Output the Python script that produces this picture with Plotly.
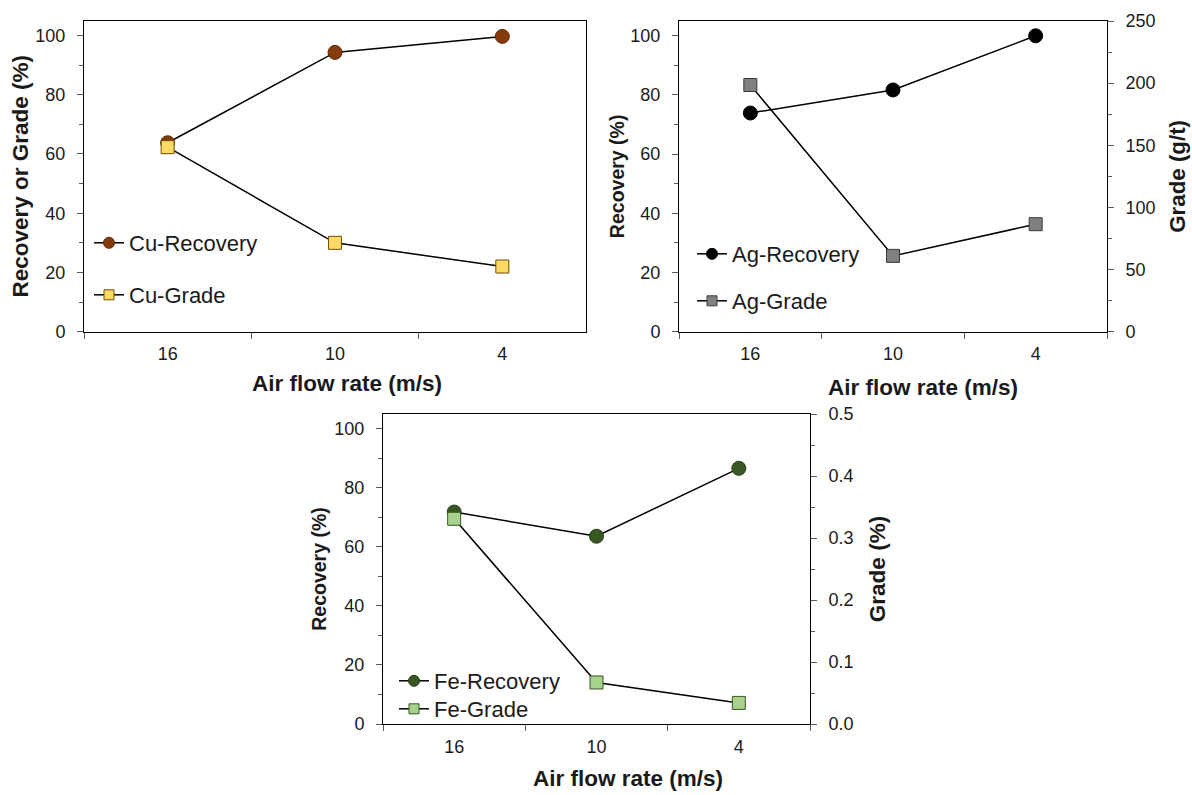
import plotly.graph_objects as go

W, H = 1192, 795

# ---------------- data ----------------
air_flow = ["16", "10", "4"]

cu_recovery = [63.8, 94.3, 99.7]
cu_grade = [62.3, 30.0, 22.0]

ag_recovery = [73.9, 81.7, 100.0]
ag_grade = [198.5, 61.0, 86.5]          # g/t

fe_recovery = [71.8, 63.6, 86.6]
fe_grade = [0.331, 0.067, 0.034]        # %

FONT = "Arial, Liberation Sans, sans-serif"
TXT = "#1a1a1a"
TICKC = "#595959"


def px(x):
    return x / W


def py(y):
    return 1 - y / H


fig = go.Figure()

line_style = dict(color="#000000", width=1.5)

styles = {
    "Cu-Recovery": dict(symbol="circle", color="#843C0C", lc="#5A2808"),
    "Cu-Grade": dict(symbol="square", color="#FFD966", lc="#6B5000"),
    "Ag-Recovery": dict(symbol="circle", color="#000000", lc="#000000"),
    "Ag-Grade": dict(symbol="square", color="#808080", lc="#3A3A3A"),
    "Fe-Recovery": dict(symbol="circle", color="#385723", lc="#26401A"),
    "Fe-Grade": dict(symbol="square", color="#A9D18E", lc="#385723"),
}

series = [
    ("Cu-Recovery", cu_recovery, "x", "y", "legend"),
    ("Cu-Grade", cu_grade, "x", "y", "legend2"),
    ("Ag-Recovery", ag_recovery, "x2", "y2", "legend3"),
    ("Ag-Grade", ag_grade, "x2", "y3", "legend4"),
    ("Fe-Recovery", fe_recovery, "x3", "y4", "legend5"),
    ("Fe-Grade", fe_grade, "x3", "y5", "legend6"),
]

for name, vals, xa, ya, lg in series:
    st = styles[name]
    size = 14 if st["symbol"] == "circle" else 13
    fig.add_trace(go.Scatter(x=air_flow, y=vals, name=name, mode="lines+markers",
                             line=line_style, xaxis=xa, yaxis=ya, showlegend=False,
                             marker=dict(symbol=st["symbol"], size=size, color=st["color"],
                                         line=dict(color=st["lc"], width=1))))
# legend entries (smaller markers, as in the original legend)
for name, vals, xa, ya, lg in series:
    st = styles[name]
    size = 11 if st["symbol"] == "circle" else 10
    fig.add_trace(go.Scatter(x=[None], y=[None], name=name, mode="lines+markers",
                             line=line_style, xaxis=xa, yaxis=ya, legend=lg,
                             showlegend=True,
                             marker=dict(symbol=st["symbol"], size=size, color=st["color"],
                                         line=dict(color=st["lc"], width=1))))

tickfont = dict(family=FONT, size=18, color=TXT)


def xaxis_cfg(x0, x1, anchor):
    return dict(domain=[px(x0), px(x1)], anchor=anchor, type="category",
                range=[-0.5, 2.5], autorange=False,
                tickson="boundaries", ticks="outside", ticklen=6, tickcolor=TICKC,
                showline=True, linecolor="#000000", linewidth=1, mirror=True,
                showgrid=False, zeroline=False, tickfont=tickfont,
                ticklabelstandoff=6, fixedrange=True, automargin=False)


def yleft_cfg(y0, y1, anchor, title, tsize, standoff, mirror):
    return dict(domain=[py(y1), py(y0)], anchor=anchor, range=[0, 105],
                tickmode="linear", tick0=0, dtick=20, ticks="outside", ticklen=6,
                tickcolor=TICKC,
                minor=dict(dtick=10, tick0=0, ticks="outside", ticklen=4, tickcolor=TICKC),
                showline=True, linecolor="#000000", linewidth=1, mirror=mirror,
                showgrid=False, zeroline=False, tickfont=tickfont,
                ticklabelstandoff=8, automargin=False, fixedrange=True,
                title=dict(text=title, standoff=standoff,
                           font=dict(family=FONT, size=tsize, color=TXT, weight="bold")))


def yright_cfg(overlay, anchor, rng, dtick, mdtick, title, tsize, standoff, fmt=None):
    d = dict(overlaying=overlay, anchor=anchor, side="right", range=rng,
             tickmode="linear", tick0=0, dtick=dtick, ticks="outside", ticklen=6,
             tickcolor=TICKC,
             minor=dict(dtick=mdtick, tick0=0, ticks="outside", ticklen=4, tickcolor=TICKC),
             showline=True, linecolor="#000000", linewidth=1,
             showgrid=False, zeroline=False, tickfont=tickfont,
             ticklabelstandoff=8, automargin=False, fixedrange=True,
             title=dict(text=title, standoff=standoff,
                        font=dict(family=FONT, size=tsize, color=TXT, weight="bold")))
    if fmt:
        d["tickformat"] = fmt
    return d


legend_font = dict(family=FONT, size=22, color=TXT)


def legend_cfg(x, y):
    return dict(x=px(x), y=py(y), xanchor="left", yanchor="middle",
                font=legend_font, bgcolor="rgba(0,0,0,0)")


fig.update_layout(
    width=W, height=H,
    margin=dict(l=0, r=0, t=0, b=0, autoexpand=False),
    paper_bgcolor="white", plot_bgcolor="white",
    font=dict(family=FONT, color=TXT),
    xaxis=xaxis_cfg(84, 586, "y"),
    yaxis=yleft_cfg(20.7, 331.7, "x", "Recovery or Grade (%)", 22.5, 0, True),
    xaxis2=xaxis_cfg(679, 1107, "y2"),
    yaxis2=yleft_cfg(21, 331.7, "x2", "Recovery (%)", 19.5, 0, False),
    yaxis3=yright_cfg("y2", "x2", [0, 250], 50, 25, "Grade (g/t)", 22.3, 14),
    xaxis3=xaxis_cfg(383, 810, "y4"),
    yaxis4=yleft_cfg(414, 724, "x3", "Recovery (%)", 19.5, 2, False),
    yaxis5=yright_cfg("y4", "x3", [0, 0.5], 0.1, 0.05, "Grade (%)", 22.5, 16, fmt=".1f"),
    legend=legend_cfg(89, 243),
    legend2=legend_cfg(89, 295),
    legend3=legend_cfg(692, 254),
    legend4=legend_cfg(692, 301),
    legend5=legend_cfg(394, 681),
    legend6=legend_cfg(394, 709),
    showlegend=True,
)

xtitle_font = dict(family=FONT, size=22.5, color=TXT, weight="bold")
for (cx, cy) in [(347, 383), (923, 387), (628, 778)]:
    fig.add_annotation(text="Air flow rate (m/s)", xref="paper", yref="paper",
                       x=px(cx), y=py(cy), xanchor="center", yanchor="middle",
                       showarrow=False, font=xtitle_font)

fig.write_html("out.html", config=dict(displayModeBar=False),
               post_script="document.body.style.margin='0';")
